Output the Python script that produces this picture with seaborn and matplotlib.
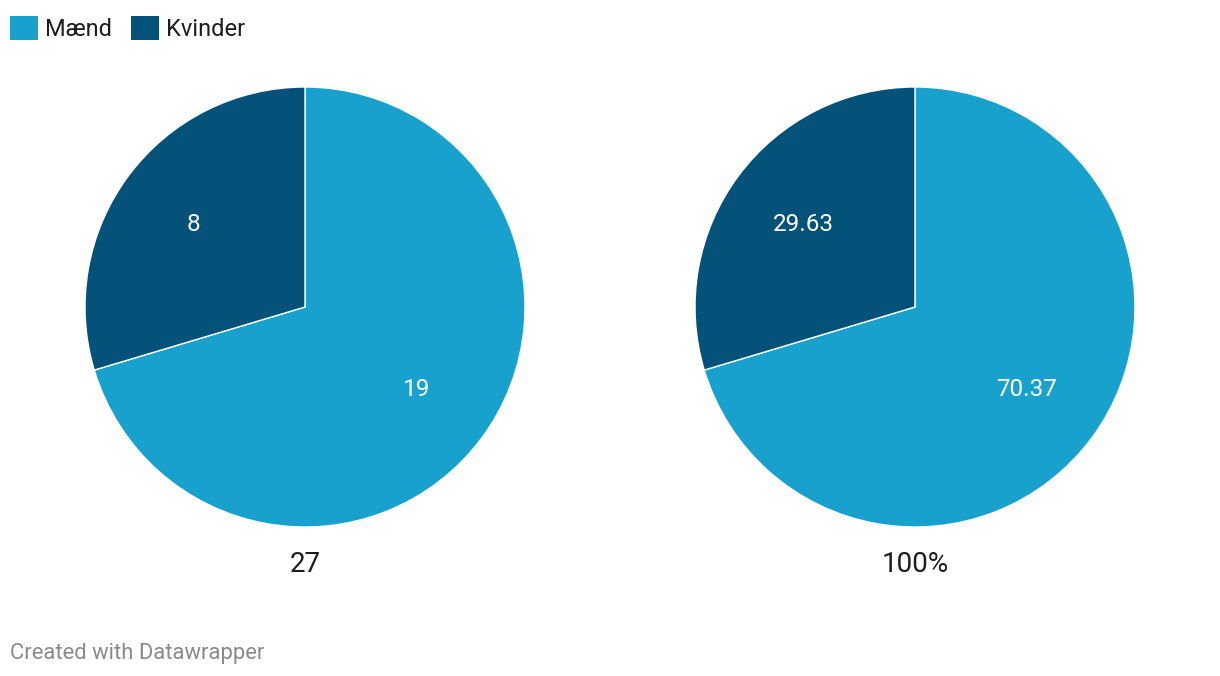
import matplotlib.pyplot as plt
import seaborn as sns
from matplotlib.patches import Patch

# Data
groups = ['Mænd', 'Kvinder']
counts = [19, 8]
shares = [70.37, 29.63]
count_labels = ['19', '8']
share_labels = ['70.37', '29.63']
totals = ['27', '100%']
colors = ['#18a1cd', '#045279']

sns.set_style('white')
plt.rcParams['font.family'] = ['Roboto', 'DejaVu Sans']

fig = plt.figure(figsize=(12.2, 6.76), dpi=100)
W, H = 1220, 676


def draw_pie(cx, values, texts, total):
    # pie of radius 220px centred at (cx, 307)
    r = 220
    ax = fig.add_axes([(cx - r) / W, (H - 307 - r) / H, 2 * r / W, 2 * r / H])
    ax.pie(values, labels=texts, colors=colors, startangle=90,
           counterclock=False, labeldistance=0.63,
           wedgeprops=dict(edgecolor='white', linewidth=1),
           textprops=dict(color='white', fontsize=17.5,
                          ha='center', va='center'))
    ax.set_xlim(-1, 1)
    ax.set_ylim(-1, 1)
    ax.set_aspect('equal')
    ax.axis('off')
    fig.text(cx / W, 1 - 564 / H, total, ha='center', va='center',
             fontsize=20, color='#1d1d1d')


draw_pie(305, counts, count_labels, totals[0])
draw_pie(915, shares, share_labels, totals[1])

# Legend at the top left
handles = [Patch(facecolor=c, edgecolor='none', label=g) for g, c in zip(groups, colors)]
fig.legend(handles=handles, loc='upper left', bbox_to_anchor=(10 / W, 1 - 16 / H),
           ncol=2, frameon=False, fontsize=17, handlelength=1.19, handleheight=1.19,
           handletextpad=0.3, columnspacing=0.8, borderpad=0, borderaxespad=0,
           labelcolor='#1d1d1d')

fig.text(10 / W, 1 - 654 / H, 'Created with Datawrapper', ha='left', va='center',
         fontsize=15.8, color='#8a8a8a')

fig.savefig('out.png', dpi=100, facecolor='white')
